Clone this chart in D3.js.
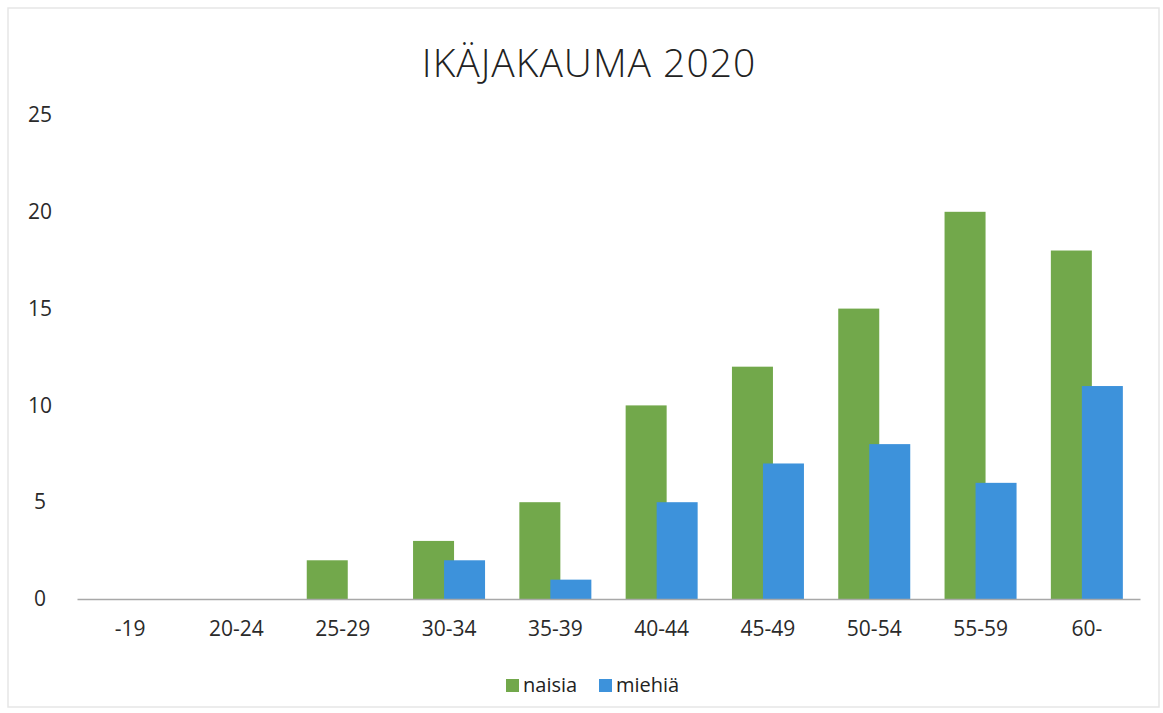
<!DOCTYPE html>
<html>
<head>
<meta charset="utf-8">
<script src="https://cdn.jsdelivr.net/npm/d3@7"></script>
<style>
  body { margin: 0; background: #fff; }
  text { font-family: "Open Sans", sans-serif; }
</style>
</head>
<body>
<svg id="chart"></svg>
<script>
// data
var categories = ["-19", "20-24", "25-29", "30-34", "35-39", "40-44", "45-49", "50-54", "55-59", "60-"];
var naisia = [0, 0, 2, 3, 5, 10, 12, 15, 20, 18];
var miehia = [0, 0, 0, 2, 1, 5, 7, 8, 6, 11];
var seriesNames = ["naisia", "miehiä"];
var yTicks = [0, 5, 10, 15, 20, 25];

var screen = { width: 1163, height: 713 };
var margins = { top: 115, bottom: 114, left: 77, right: 23 };
var colors = ["#72a84b", "#3d92db"];

var graphWidth = screen.width - margins.left - margins.right;
var graphHeight = screen.height - margins.top - margins.bottom;

var svg = d3.select("#chart")
  .attr("width", screen.width)
  .attr("height", screen.height);

// faint frame of the scanned chart area
svg.append("rect")
  .attr("x", 8).attr("y", 8)
  .attr("width", screen.width - 12).attr("height", screen.height - 14)
  .attr("fill", "none")
  .style("stroke", "#e6e6e6")
  .style("stroke-width", 1.5);

svg.append("text")
  .attr("x", 589)
  .attr("y", 77)
  .attr("text-anchor", "middle")
  .style("font-size", "39px")
  .style("font-weight", 300)
  .style("letter-spacing", "1px")
  .attr("fill", "#222")
  .text("IKÄJAKAUMA 2020");

var xScale = d3.scaleBand()
  .domain(categories)
  .range([margins.left, margins.left + graphWidth]);

var yScale = d3.scaleLinear()
  .domain([0, 25])
  .range([margins.top + graphHeight, margins.top]);

// y axis labels only
var yAxis = d3.axisLeft(yScale).tickValues(yTicks).tickSize(0).tickPadding(12);
var yG = svg.append("g")
  .attr("transform", "translate(" + (margins.left - 25) + ",0)")
  .call(yAxis);
yG.select(".domain").remove();
yG.selectAll("text")
  .attr("text-anchor", "middle")
  .style("font-size", "21px")
  .attr("fill", "#2a2a2a");

// bars
var barW = 41, overlap = 10;
var data = categories.map(function(c, i) { return { cat: c, vals: [naisia[i], miehia[i]] }; });

var groups = svg.append("g").selectAll("g")
  .data(data)
  .enter()
  .append("g");

groups.selectAll("rect")
  .data(function(d) { return d.vals.map(function(v, j) { return { cat: d.cat, v: v, j: j }; }); })
  .enter()
  .append("rect")
  .attr("x", function(d) {
    var center = xScale(d.cat) + xScale.bandwidth() / 2;
    var start = center - (2 * barW - overlap) / 2;
    return start + d.j * (barW - overlap);
  })
  .attr("y", function(d) { return yScale(d.v); })
  .attr("width", barW)
  .attr("height", function(d) { return yScale(0) - yScale(d.v); })
  .attr("fill", function(d) { return colors[d.j]; });

// x axis
var xAxis = d3.axisBottom(xScale).tickSize(0).tickPadding(22);
var xG = svg.append("g")
  .attr("transform", "translate(0," + yScale(0) + ")")
  .call(xAxis);
xG.select(".domain").style("stroke", "#a8a8a8").style("stroke-width", 1.5);
xG.selectAll("text")
  .style("font-size", "21px")
  .attr("fill", "#2a2a2a");

// legend
var legendItems = [
  { name: seriesNames[0], x: 506, color: colors[0] },
  { name: seriesNames[1], x: 599, color: colors[1] }
];
var legend = svg.append("g").selectAll("g")
  .data(legendItems)
  .enter()
  .append("g")
  .attr("transform", function(d) { return "translate(" + d.x + ",692)"; });
legend.append("rect")
  .attr("x", 0).attr("y", -13)
  .attr("width", 13).attr("height", 13)
  .attr("fill", function(d) { return d.color; });
legend.append("text")
  .attr("x", 17).attr("y", 0)
  .style("font-size", "20px")
  .attr("fill", "#222")
  .text(function(d) { return d.name; });
</script>
</body>
</html>
